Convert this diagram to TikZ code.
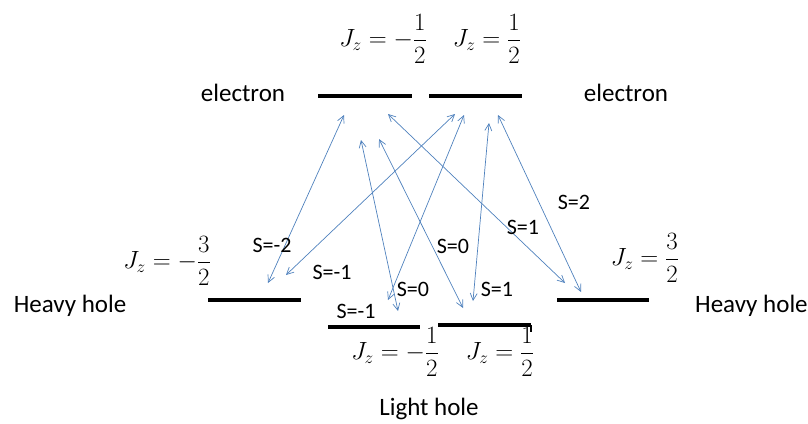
\documentclass[tikz,border=0pt]{standalone}
\usepackage{amsmath}
\usepackage{fontspec}
\setmainfont{Carlito}
\usetikzlibrary{arrows.meta}
\definecolor{arrblue}{RGB}{79,129,189}
\begin{document}
\begin{tikzpicture}[x=1pt,y=-1pt,
  level/.style={line width=3.8pt},
  tick/.style={line width=1.5pt},
  trans/.style={arrblue, line width=0.7pt,
    {Straight Barb[length=7pt,width=7pt]}-{Straight Barb[length=7pt,width=7pt]}},
  lbl/.style={font=\fontsize{25}{29}\selectfont, inner sep=0pt},
  slbl/.style={font=\fontsize{22}{26}\selectfont, inner sep=0pt},
  jz/.style={font=\fontsize{23}{27}\selectfont, inner sep=0pt}]
\useasboundingbox (0,0) rectangle (808,423);

% energy levels
\coordinate (eAl) at (318,96);  \coordinate (eAr) at (412,96);
\coordinate (eBl) at (429,96);  \coordinate (eBr) at (522,96);
\coordinate (hAl) at (208,300); \coordinate (hAr) at (301,300);
\coordinate (hBl) at (557,300); \coordinate (hBr) at (649,300);
\coordinate (lAl) at (328,327); \coordinate (lAr) at (420,327);
\coordinate (lBl) at (438,325); \coordinate (lBr) at (531,325);
\coordinate (tk) at (531,332);
\draw[level] (eAl) -- (eAr);
\draw[level] (eBl) -- (eBr);
\draw[level] (hAl) -- (hAr);
\draw[level] (hBl) -- (hBr);
\draw[level] (lAl) -- (lAr);
\draw[level] (lBl) -- (lBr);
\draw[tick] (lBr) -- (tk);

% labels
\node[lbl] (el1) at (243,93) {electron};
\node[lbl] (el2) at (626,93) {electron};
\node[lbl] (hh1) at (70,306) {Heavy hole};
\node[lbl, anchor=west] (hh2) at (695,306) {Heavy hole};
\node[lbl] (lh) at (429,409) {Light hole};

\node[jz] (jz1) at (383,39) {$J_z=-\dfrac{1}{2}$};
\node[jz] (jz2) at (487,39) {$J_z=\dfrac{1}{2}$};
\node[jz] (jz3) at (167,261) {$J_z=-\dfrac{3}{2}$};
\node[jz] (jz4) at (645,258) {$J_z=\dfrac{3}{2}$};
\node[jz] (jz5) at (395,352) {$J_z=-\dfrac{1}{2}$};
\node[jz] (jz6) at (500,352) {$J_z=\dfrac{1}{2}$};

% transition end points
\coordinate (a1) at (344,115); \coordinate (b1) at (268,283);
\coordinate (a2) at (455,114); \coordinate (b2) at (286,275);
\coordinate (a3) at (464,115); \coordinate (b3) at (388,300);
\coordinate (a4) at (361,140); \coordinate (b4) at (398,311);
\coordinate (a5) at (379,139); \coordinate (b5) at (463,308);
\coordinate (a6) at (388,114); \coordinate (b6) at (565,283);
\coordinate (a7) at (489,123); \coordinate (b7) at (473,301);
\coordinate (a8) at (498,115); \coordinate (b8) at (581,292);
\foreach \i in {1,...,8} \draw[trans] (a\i) -- (b\i);

% selection labels
\node[slbl] (s1) at (272,245) {S=-2};
\node[slbl] (s2) at (332,272) {S=-1};
\node[slbl] (s3) at (413,289) {S=0};
\node[slbl] (s4) at (356,311) {S=-1};
\node[slbl] (s5) at (453,246) {S=0};
\node[slbl] (s6) at (497,289) {S=1};
\node[slbl] (s7) at (523,227) {S=1};
\node[slbl] (s8) at (574,202) {S=2};
\end{tikzpicture}
\end{document}
